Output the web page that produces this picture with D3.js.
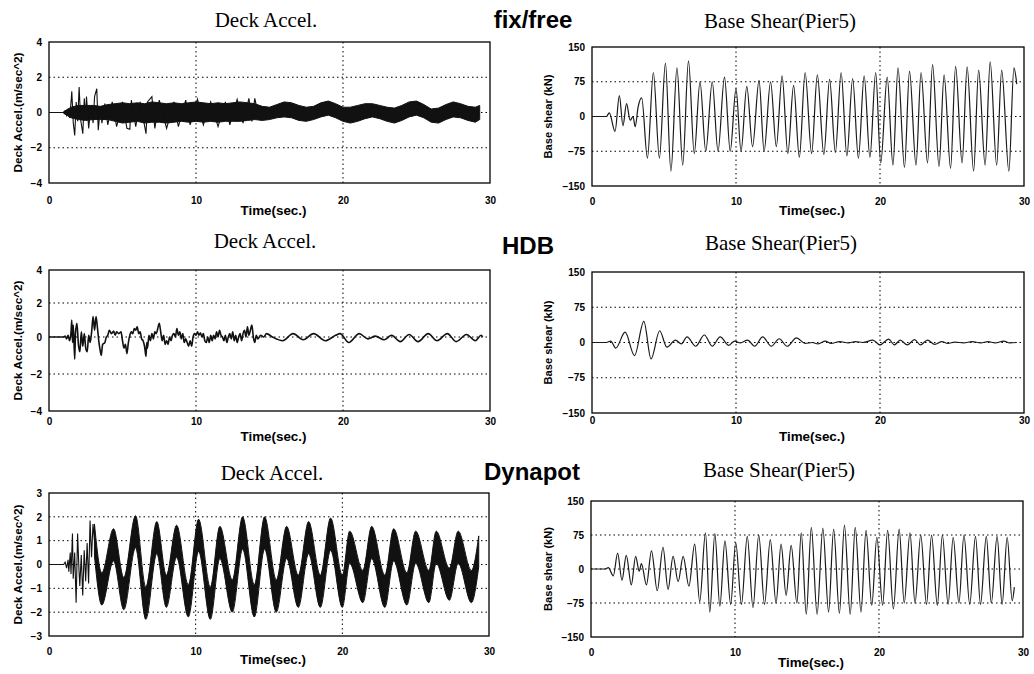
<!DOCTYPE html>
<html><head><meta charset="utf-8">
<script src="https://cdn.jsdelivr.net/npm/d3@7"></script>
<style>body{margin:0;background:#fff}svg{display:block}</style>
</head><body>
<svg id="c" width="1034" height="674"></svg>
<script>
// ---------------- DATA ----------------
const timeTicks = [0, 10, 20, 30];
const accelTicks = [-4, -2, 0, 2, 4];
const accelTicksDyn = [-3, -2, -1, 0, 1, 2, 3];
const shearTicks = [-150, -75, 0, 75, 150];
const caseLabels = ["fix/free", "HDB", "Dynapot"];
const accelTitle = "Deck Accel.";
const shearTitle = "Base Shear(Pier5)";
const accelYLabel = "Deck Accel.(m/sec^2)";
const shearYLabel = "Base shear (kN)";
const timeLabel = "Time(sec.)";

// fix/free base shear (t, kN) extrema
const fixShear = [[0,0],[1.0,0],[1.2,8],[1.6,-32],[1.9,45],[2.15,-20],[2.4,28],[2.65,-8],[2.85,0],[3.0,-22],[3.2,20],[3.45,40],
 [3.85,-90],[4.26,95],[4.68,-90],[5.1,115],[5.48,-118],[5.9,105],[6.3,-105],[6.7,120],[7.1,-80],[7.5,75],[7.9,-75],[8.35,75],
 [8.75,-75],[9.2,85],[9.6,-75],[10.0,60],[10.35,-75],[10.75,65],[11.15,-65],[11.6,78],[11.95,-75],[12.4,75],[12.8,-65],[13.2,88],
 [13.6,-80],[14.0,67],[14.4,-88],[14.8,95],[15.25,-80],[15.65,90],[16.1,-82],[16.5,80],[16.9,-78],[17.3,95],[17.7,-85],[18.1,82],
 [18.5,-90],[18.9,88],[19.3,-88],[19.7,95],[20.05,-100],[20.5,85],[20.9,-105],[21.25,105],[21.7,-110],[22.05,98],[22.5,-105],
 [22.85,95],[23.3,-100],[23.65,112],[24.1,-108],[24.45,90],[24.9,-112],[25.25,108],[25.7,-100],[26.05,107],[26.5,-118],[26.85,100],
 [27.3,-105],[27.65,118],[28.1,-105],[28.45,100],[28.95,-118],[29.3,105],[29.5,70]];

// HDB base shear
const hdbShear = [[0,0],[1.0,0],[1.3,3],[1.65,-12],[2.3,22],[2.95,-28],[3.6,45],[4.1,-35],[4.7,25],[5.2,-10],[5.8,5],[6.2,-3],
 [6.6,12],[7.2,-8],[7.8,16],[8.35,-8],[8.9,12],[9.5,-6],[9.9,3],[10.3,-1],[10.8,5],[11.3,-8],[11.85,12],[12.45,-8],[13.0,8],
 [13.55,-8],[14.2,10],[14.8,-2],[15.3,0],[15.7,-3],[16.2,3],[16.6,-2],[17.2,2],[17.8,-1],[18.3,2],[18.8,0],[19.5,5],[20.0,-5],
 [20.6,7],[21.0,-5],[21.4,5],[21.9,-5],[22.4,6],[22.8,-5],[23.3,5],[23.8,-4],[24.3,2],[24.7,-2],[25.2,1],[25.8,-1],[26.4,2],
 [27.0,-1],[27.5,2],[28.0,-1],[28.6,3],[29.0,-1],[29.5,0]];

// Dynapot base shear
const dynShear = [[0,0],[1.0,0],[1.2,3],[1.55,-15],[1.85,35],[2.15,-25],[2.45,30],[2.8,-35],[3.1,28],[3.35,-5],[3.5,12],[3.85,-35],
 [4.2,40],[4.6,-48],[5.0,48],[5.35,-45],[5.7,28],[6.05,-28],[6.4,28],[6.8,-38],[7.2,55],[7.55,-72],[7.95,80],[8.25,-95],[8.6,78],
 [8.95,-82],[9.3,62],[9.7,-78],[10.05,58],[10.45,-78],[10.85,72],[11.25,-85],[11.65,75],[12.05,-78],[12.45,65],[12.85,-75],[13.2,55],
 [13.55,-58],[13.9,52],[14.3,-75],[14.6,80],[14.95,-100],[15.3,92],[15.7,-100],[16.1,90],[16.5,-95],[16.85,88],[17.25,-98],[17.6,97],
 [18.0,-100],[18.35,92],[18.75,-95],[19.1,85],[19.5,-80],[19.85,70],[20.25,-80],[20.6,85],[21.0,-88],[21.4,88],[21.75,-75],[22.15,80],
 [22.5,-75],[22.9,75],[23.3,-78],[23.65,75],[24.05,-80],[24.4,75],[24.8,-78],[25.15,70],[25.55,-75],[25.9,75],[26.3,-78],[26.7,72],
 [27.05,-78],[27.45,72],[27.8,-75],[28.2,72],[28.55,-78],[28.9,70],[29.25,-70],[29.4,-40]];

// fix/free deck acceleration: dense band (t, upper, lower) + spike trace (t, v)
const fixAccBand = [[1.0,0.05,-0.05],[1.5,0.3,-0.3],[2.0,0.4,-0.4],[2.5,0.4,-0.45],[3.0,0.4,-0.4],[3.5,0.35,-0.4],[4.0,0.45,-0.4],
 [4.5,0.5,-0.5],[5.0,0.55,-0.6],[5.5,0.5,-0.55],[6.0,0.55,-0.5],[6.5,0.5,-0.6],[7.0,0.6,-0.55],[7.5,0.55,-0.55],[8.0,0.5,-0.6],
 [8.5,0.55,-0.55],[9.0,0.5,-0.5],[9.5,0.55,-0.55],[10.0,0.6,-0.5],[10.5,0.55,-0.55],[11.0,0.5,-0.5],[11.5,0.55,-0.55],[12.0,0.5,-0.5],
 [12.5,0.55,-0.5],[13.0,0.6,-0.5],[13.5,0.55,-0.45],[14.0,0.5,-0.4],[14.5,0.35,-0.45],[15.0,0.3,-0.4],[15.5,0.45,-0.3],[16.0,0.6,-0.25],
 [16.5,0.55,-0.3],[17.0,0.4,-0.45],[17.5,0.3,-0.5],[18.0,0.35,-0.4],[18.5,0.55,-0.25],[19.0,0.65,-0.15],[19.5,0.5,-0.3],[20.0,0.3,-0.5],
 [20.5,0.3,-0.6],[21.0,0.4,-0.5],[21.5,0.5,-0.35],[22.0,0.5,-0.25],[22.5,0.4,-0.35],[23.0,0.3,-0.5],[23.5,0.25,-0.6],[24.0,0.4,-0.45],
 [24.5,0.6,-0.25],[25.0,0.65,-0.15],[25.5,0.45,-0.3],[26.0,0.2,-0.55],[26.5,0.25,-0.6],[27.0,0.45,-0.4],[27.5,0.6,-0.25],[28.0,0.5,-0.3],
 [28.5,0.35,-0.45],[29.0,0.3,-0.55],[29.3,0.4,-0.4]];
const fixAccTrace = [[0,0],[1.0,0],[1.1,0.1],[1.2,-0.15],[1.3,0.2],[1.4,-0.3],[1.5,0.6],[1.55,1.2],[1.65,-0.6],[1.75,-1.3],[1.85,0.6],
 [1.95,-0.5],[2.05,1.45],[2.15,-0.4],[2.3,-1.2],[2.4,0.8],[2.5,-0.3],[2.55,0.9],[2.7,-0.9],[2.85,0.4],[3.0,-0.6],[3.1,0.9],[3.25,1.35],
 [3.35,-1.0],[3.5,0.3],[3.6,-0.6],[3.8,0.5],[4.0,-0.7],[4.3,0.6],[4.6,-0.8],[5.0,0.6],[5.3,-0.9],[5.5,-0.95],[5.6,0.7],[5.9,-0.8],
 [6.2,0.6],[6.6,-1.2],[6.7,0.6],[7.0,0.9],[7.2,-0.9],[7.5,0.7],[8.0,-0.9],[8.5,0.6],[8.8,-0.8],[9.3,0.7],[9.6,-0.7],[10.1,0.75],
 [10.5,-0.7],[11.0,0.6],[11.5,-0.8],[12.0,0.6],[12.3,-0.7],[12.8,0.75],[13.2,-0.6],[13.6,0.8],[13.8,-0.5],[14.0,0.8],[14.2,0.0]];

// HDB deck acceleration trace (t, v)
const hdbAcc = [[0,0],[1.0,0],[1.1,0.05],[1.2,-0.1],[1.3,0.1],[1.4,-0.2],[1.5,0.3],[1.55,1.0],[1.6,-0.3],[1.65,0.7],[1.75,-1.2],
 [1.8,0.2],[1.9,0.8],[2.0,-0.4],[2.1,-0.8],[2.2,0.3],[2.3,-0.5],[2.4,0.2],[2.5,-0.6],[2.6,-0.8],[2.7,0.1],[2.8,-0.3],[2.9,0.3],
 [3.0,1.2],[3.1,0.4],[3.2,1.2],[3.3,0.5],[3.4,-0.3],[3.5,-0.8],[3.55,-1.0],[3.65,-0.4],[3.8,-0.3],[3.9,0.0],[4.0,0.1],[4.1,0.4],
 [4.25,0.2],[4.4,0.35],[4.5,0.1],[4.6,0.3],[4.75,0.2],[4.9,0.3],[5.0,-0.2],[5.1,-0.6],[5.2,-0.4],[5.3,-0.9],[5.4,-0.3],[5.5,0.1],
 [5.6,0.3],[5.7,0.2],[5.8,0.5],[5.9,0.4],[6.0,0.6],[6.1,0.2],[6.2,0.3],[6.3,-0.1],[6.4,-0.2],[6.5,-0.5],[6.6,-1.05],[6.65,-0.3],
 [6.7,-0.6],[6.8,0.1],[6.9,-0.2],[7.0,0.2],[7.1,-0.1],[7.2,0.3],[7.3,0.2],[7.4,0.5],[7.5,0.8],[7.6,0.3],[7.7,-0.2],[7.8,0.1],
 [7.9,-0.4],[8.0,-0.2],[8.1,-0.4],[8.2,0.0],[8.3,-0.2],[8.4,0.1],[8.5,0.2],[8.6,0.0],[8.7,0.5],[8.8,0.1],[8.9,0.3],[9.0,-0.1],
 [9.1,0.2],[9.2,-0.3],[9.3,-0.1],[9.4,-0.3],[9.5,-0.5],[9.6,-0.2],[9.7,-0.5],[9.8,0.0],[9.9,0.2],[10.0,0.1],[10.1,0.3],[10.2,0.1],
 [10.3,0.25],[10.4,0.0],[10.5,0.2],[10.6,-0.2],[10.7,-0.3],[10.8,0.0],[10.9,-0.3],[11.0,0.1],[11.1,-0.2],[11.2,0.1],[11.3,-0.1],
 [11.4,0.3],[11.5,0.0],[11.6,0.4],[11.7,0.1],[11.8,0.0],[11.9,-0.2],[12.0,0.1],[12.1,-0.3],[12.2,0.0],[12.3,0.2],[12.4,-0.1],
 [12.5,0.3],[12.6,-0.2],[12.7,0.1],[12.8,-0.3],[12.9,0.0],[13.0,0.2],[13.1,-0.2],[13.2,0.2],[13.3,0.4],[13.4,0.0],[13.5,0.6],
 [13.6,0.1],[13.7,0.4],[13.8,0.7],[13.9,0.0],[14.0,-0.3],[14.1,0.1],[14.2,-0.1],[14.4,0.1],[14.6,0.0],[14.8,0.2],[15.2,0.0],
 [15.9,-0.2],[16.6,0.2],[17.3,-0.15],[18.0,0.2],[18.8,-0.2],[19.5,0.1],[19.8,0.2],[20.4,-0.3],[21.1,0.2],[21.7,-0.1],[22.2,0.05],
 [22.8,-0.15],[23.3,0.1],[23.9,-0.25],[24.5,0.15],[25.1,-0.25],[25.8,0.2],[26.4,-0.2],[27.1,0.2],[27.7,-0.25],[28.4,0.15],
 [29.0,-0.2],[29.4,0.1],[29.5,0.0]];

// Dynapot deck acceleration: band (t, upper, lower) + early spike trace
const dynAccBand = [[3.1,1.7,0.35],[3.6,-0.35,-1.7],[4.4,1.5,0.15],[5.1,-0.55,-1.9],[5.9,2.05,0.7],[6.6,-0.95,-2.3],[7.35,1.8,0.45],
 [8.0,-0.45,-1.8],[8.7,1.65,0.3],[9.5,-0.85,-2.2],[10.2,1.9,0.55],[11.0,-0.95,-2.3],[11.65,1.6,0.25],[12.5,-0.65,-2.0],[13.2,2.0,0.65],
 [14.0,-0.85,-2.2],[14.7,2.0,0.65],[15.5,-0.65,-2.0],[16.2,1.6,0.25],[17.0,-0.45,-1.8],[17.7,1.8,0.45],[18.5,-0.45,-1.8],[19.2,1.95,0.6],
 [20.0,-0.45,-1.8],[20.5,1.4,0.05],[21.4,-0.25,-1.6],[22.0,1.6,0.25],[22.9,-0.45,-1.8],[23.5,1.5,0.15],[24.4,-0.35,-1.7],[25.0,1.4,0.05],
 [25.9,-0.25,-1.6],[26.4,1.4,0.05],[27.3,-0.15,-1.5],[27.9,1.4,0.05],[28.8,-0.25,-1.6],[29.3,1.2,-0.1]];
const dynAccTrace = [[0,0],[1.0,0],[1.1,0.1],[1.2,-0.15],[1.3,0.2],[1.35,-0.3],[1.45,0.5],[1.5,-0.4],[1.6,1.3],[1.65,-0.6],
 [1.75,0.5],[1.85,-1.6],[1.95,1.3],[2.05,-0.3],[2.1,-0.9],[2.2,0.4],[2.3,-1.3],[2.4,0.6],[2.5,-0.7],[2.6,0.9],[2.7,-0.8],
 [2.8,1.85],[2.9,0.3],[3.0,1.7],[3.1,1.0]];

// ---------------- LAYOUT ----------------
const svg = d3.select("#c");
const SERIF = "'Liberation Serif','Times New Roman',serif";
const SANS = "'Liberation Sans',Arial,sans-serif";

const rows = [
  { caseX: 533, caseY: 28,
    acc: { x0: 49, x1: 490, yDom: [-4, 4], yRng: [183, 42], ticks: accelTicks, titleX: 266, titleY: 27, tickY: 200, timeY: 215,
           band: fixAccBand, trace: fixAccTrace },
    sh:  { x0: 592, x1: 1024, yRng: [186, 47], titleX: 780, titleY: 28, tickY: 201, timeY: 215, data: fixShear } },
  { caseX: 528, caseY: 254,
    acc: { x0: 49, x1: 490, yDom: [-4, -2, 0, 2, 4], yRng: [411, 374, 337, 303, 270], ticks: accelTicks, titleX: 265, titleY: 248, tickY: 421, timeY: 441,
           line: hdbAcc },
    sh:  { x0: 592, x1: 1024, yRng: [413, 272], titleX: 781, titleY: 250, tickY: 420, timeY: 441, data: hdbShear } },
  { caseX: 532, caseY: 480,
    acc: { x0: 49, x1: 489, yDom: [-3, 3], yRng: [636, 493], ticks: accelTicksDyn, titleX: 272, titleY: 480, tickY: 651, timeY: 664,
           band: dynAccBand, trace: dynAccTrace },
    sh:  { x0: 591, x1: 1023, yRng: [637, 501], titleX: 779, titleY: 477, tickY: 652, timeY: 667, data: dynShear } }
];

function frame(p, x, y, ticks, yLabel, yLabelX, yLabelLen) {
  const g = svg.append("g");
  const r = y.range();
  const yB = r[0], yT = r[r.length - 1];
  g.selectAll(".vg").data(timeTicks.filter(t => t > 0 && t < 30)).join("line")
    .attr("x1", d => x(d)).attr("x2", d => x(d)).attr("y1", yT).attr("y2", yB)
    .attr("stroke", "#000").attr("stroke-width", 1).attr("stroke-dasharray", "1.5,3");
  g.selectAll(".hg").data(ticks.slice(1, -1)).join("line")
    .attr("x1", p.x0).attr("x2", p.x1).attr("y1", d => y(d)).attr("y2", d => y(d))
    .attr("stroke", "#000").attr("stroke-width", 1).attr("stroke-dasharray", "1.5,3");
  const ax = g.append("g").attr("transform", `translate(0,${p.tickY})`)
    .call(d3.axisBottom(x).tickValues(timeTicks).tickSize(0).tickPadding(0).tickFormat(d3.format("d")));
  ax.select(".domain").remove();
  ax.selectAll("text").attr("dy", "0.35em").attr("y", 0)
    .attr("font-family", SANS).attr("font-weight", "bold").attr("font-size", 10).attr("fill", "#000");
  const ay = g.append("g").attr("transform", `translate(${p.x0},0)`)
    .call(d3.axisLeft(y).tickValues(ticks).tickSize(0).tickPadding(7).tickFormat(d3.format("d")));
  ay.select(".domain").remove();
  ay.selectAll("text").attr("font-family", SANS).attr("font-weight", "bold").attr("font-size", 10).attr("fill", "#000");
  g.append("text").attr("x", (p.x0 + p.x1) / 2 + 4).attr("y", p.timeY).attr("text-anchor", "middle")
    .attr("font-family", SANS).attr("font-weight", "bold").attr("font-size", 12)
    .attr("textLength", 66).attr("lengthAdjust", "spacingAndGlyphs").text(timeLabel);
  g.append("text").attr("transform", `translate(${yLabelX},${(yT + yB) / 2}) rotate(-90)`).attr("text-anchor", "middle")
    .attr("dy", "0.35em").attr("font-family", SANS).attr("font-weight", "bold").attr("font-size", 11)
    .attr("textLength", yLabelLen).attr("lengthAdjust", "spacingAndGlyphs").text(yLabel);
  return g;
}

function border(p, y) {
  const r = y.range();
  svg.append("rect").attr("x", p.x0).attr("y", r[r.length - 1]).attr("width", p.x1 - p.x0).attr("height", r[0] - r[r.length - 1])
    .attr("fill", "none").attr("stroke", "#000").attr("stroke-width", 1.3);
}

rows.forEach((row, i) => {
  svg.append("text").attr("x", row.caseX).attr("y", row.caseY).attr("text-anchor", "middle")
    .attr("font-family", SANS).attr("font-weight", "bold").attr("font-size", 24).text(caseLabels[i]);

  // ---- acceleration panel ----
  const a = row.acc;
  const xa = d3.scaleLinear().domain([0, 30]).range([a.x0, a.x1]);
  const ya = d3.scaleLinear().domain(a.yDom).range(a.yRng);
  svg.append("text").attr("x", a.titleX).attr("y", a.titleY).attr("text-anchor", "middle")
    .attr("font-family", SERIF).attr("font-size", 21).text(accelTitle);
  frame(a, xa, ya, a.ticks, accelYLabel, 18, 120);
  if (a.band) {
    svg.append("path").datum(a.band)
      .attr("d", d3.area().x(d => xa(d[0])).y0(d => ya(d[2])).y1(d => ya(d[1]))
        .curve(a.trace === dynAccTrace ? d3.curveMonotoneX : d3.curveLinear))
      .attr("fill", "#111").attr("stroke", "#111").attr("stroke-width", 1);
  }
  if (a.trace) {
    svg.append("path").datum(a.trace)
      .attr("d", d3.line().x(d => xa(d[0])).y(d => ya(d[1])))
      .attr("fill", "none").attr("stroke", "#111").attr("stroke-width", 1.1);
  }
  if (a.line) {
    svg.append("path").datum(a.line)
      .attr("d", d3.line().x(d => xa(d[0])).y(d => ya(d[1])).curve(d3.curveMonotoneX))
      .attr("fill", "none").attr("stroke", "#111").attr("stroke-width", 1.6);
  }
  border(a, ya);

  // ---- base shear panel ----
  const s = row.sh;
  const xs = d3.scaleLinear().domain([0, 30]).range([s.x0, s.x1]);
  const ys = d3.scaleLinear().domain([-150, 150]).range(s.yRng);
  svg.append("text").attr("x", s.titleX).attr("y", s.titleY).attr("text-anchor", "middle")
    .attr("font-family", SERIF).attr("font-size", 21).text(shearTitle);
  frame(s, xs, ys, shearTicks, shearYLabel, 548, 84);
  svg.append("path").datum(s.data)
    .attr("d", d3.line().x(d => xs(d[0])).y(d => ys(d[1])).curve(d3.curveMonotoneX))
    .attr("fill", "none").attr("stroke", "#1a1a1a").attr("stroke-width", 1.2);
  border(s, ys);
});
</script>
</body></html>
